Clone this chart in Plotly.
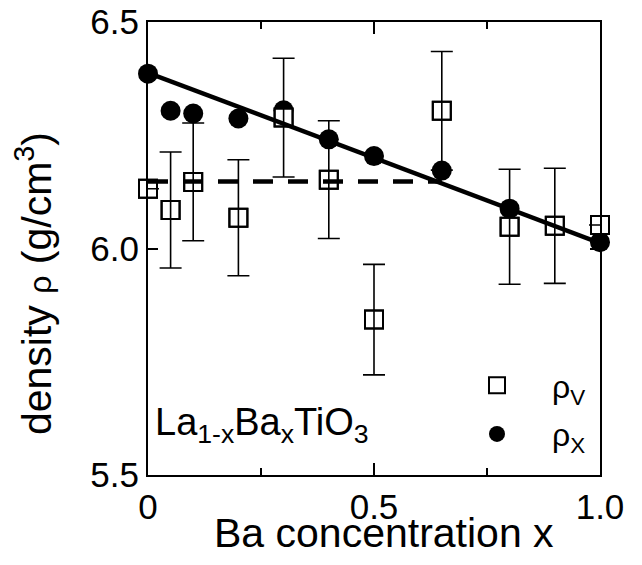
import plotly.graph_objects as go

# Ba concentration x and densities
x_v = [0.0, 0.05, 0.1, 0.2, 0.3, 0.4, 0.5, 0.65, 0.8, 0.9, 1.0]
rho_v = [6.132, 6.085, 6.147, 6.068, 6.289, 6.152, 5.843, 6.304, 6.048, 6.050, 6.052]
err_v = [None, 0.128, 0.130, 0.128, 0.131, 0.130, 0.122, 0.131, 0.127, 0.127, None]

x_x = [0.0, 0.05, 0.1, 0.2, 0.3, 0.4, 0.5, 0.65, 0.8, 1.0]
rho_x = [6.386, 6.304, 6.298, 6.287, 6.305, 6.241, 6.204, 6.172, 6.088, 6.014]

fit_x = [0.0, 1.0]
fit_y = [6.388, 6.012]

mean_x = [0.0, 0.65]
mean_y = [6.148, 6.148]

x_tickvals = [0, 0.5, 1.0]
x_ticktext = ["0", "0.5", "1.0"]
y_tickvals = [5.5, 6.0, 6.5]
y_ticktext = ["5.5", "6.0", "6.5"]

FONT = "Liberation Sans, Arial, Helvetica, sans-serif"

fig = go.Figure()

# filled circles (rho_X)
fig.add_trace(go.Scatter(
    x=x_x, y=rho_x, mode="markers", name="ρ<sub>X</sub>", legendrank=2, legendgroup="x",
    marker=dict(symbol="circle", size=20, color="black"),
    cliponaxis=False,
))
# white-filled squares (rho_V)
fig.add_trace(go.Scatter(
    x=x_v, y=rho_v, mode="markers", name="ρ<sub>V</sub>", legendrank=1, legendgroup="v",
    marker=dict(symbol="square", size=18, color="white", line=dict(color="black", width=2)),
    cliponaxis=False,
))
# error bars on top of the squares
fig.add_trace(go.Scatter(
    x=x_v, y=rho_v, mode="markers", showlegend=False,
    marker=dict(symbol="square-open", size=18, color="black", line=dict(color="black", width=2)),
    error_y=dict(type="data", array=err_v, visible=True, color="black", thickness=1.6, width=11),
    cliponaxis=False,
))
# linear fit
fig.add_trace(go.Scatter(
    x=fit_x, y=fit_y, mode="lines", showlegend=False,
    line=dict(color="black", width=4.5), cliponaxis=False,
))
# mean line (dashed)
fig.add_trace(go.Scatter(
    x=mean_x, y=mean_y, mode="lines", showlegend=False,
    line=dict(color="black", width=4.5, dash="20px,15px"), cliponaxis=False,
))

axis_common = dict(
    showgrid=False, zeroline=False, showline=True, linecolor="black", linewidth=2.2,
    mirror="ticks", ticks="inside", tickcolor="black", tickwidth=2,
    tickfont=dict(family=FONT, size=35, color="black"),
    ticklabeloverflow="allow",
)

fig.update_xaxes(
    range=[0, 1], tickvals=x_tickvals, ticktext=x_ticktext, ticklen=12,
    minor=dict(tickvals=[0.25, 0.75], ticks="inside", ticklen=7, tickwidth=2, tickcolor="black"),
    **axis_common,
)
fig.update_yaxes(
    range=[5.5, 6.5], tickvals=y_tickvals, ticktext=y_ticktext, ticklen=10,
    **axis_common,
)

fig.add_annotation(
    text="Ba concentration x", xref="paper", yref="paper", x=0.522, y=-0.128,
    xanchor="center", yanchor="middle", showarrow=False,
    font=dict(family=FONT, size=41, color="black"),
)
fig.add_annotation(
    text="density <span style='font-size:32px'>ρ</span> (g/cm<sup>3</sup>)",
    xref="paper", yref="paper", x=-0.252, y=0.4216, textangle=-90,
    xanchor="center", yanchor="middle", showarrow=False,
    font=dict(family=FONT, size=41, color="black"),
)
fig.add_annotation(
    text="La<sub>1-x</sub>Ba<sub>x</sub>TiO<sub>3</sub>",
    xref="paper", yref="paper", x=0.011, y=0.111,
    xanchor="left", yanchor="middle", showarrow=False,
    font=dict(family=FONT, size=38, color="black"),
)

# page body has an 8px default margin, so the figure is sized/shifted to compensate
fig.update_layout(
    width=634, height=557,
    margin=dict(l=140, r=42, t=14, b=90, autoexpand=False),
    paper_bgcolor="white", plot_bgcolor="white",
    showlegend=True,
    legend=dict(
        x=(442 - 148) / 452, y=(475 - 358) / 453, xanchor="left", yanchor="top",
        bgcolor="rgba(0,0,0,0)", itemwidth=100, tracegroupgap=4,
        font=dict(family=FONT, size=32, color="black"),
        traceorder="grouped",
    ),
)

fig.write_html("out.html")
